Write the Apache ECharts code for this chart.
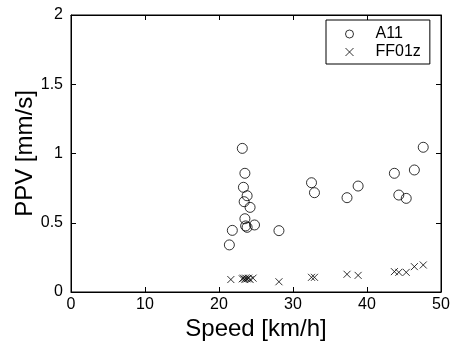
<!DOCTYPE html>
<html><head><meta charset="utf-8">
<script src="https://cdn.jsdelivr.net/npm/echarts@6/dist/echarts.min.js"></script>
<style>html,body{margin:0;padding:0;background:#fff}#c{width:455px;height:349px}</style>
</head><body><div id="c"></div>
<script>
const xTicks = [0, 10, 20, 30, 40, 50];
const yTicks = [0, 0.5, 1, 1.5, 2];
const a11Speed = [21.4, 21.8, 23.15, 23.5, 23.3, 23.8, 23.4, 24.2, 23.5, 23.8, 23.6, 24.8, 28.1, 32.5, 32.9, 37.3, 38.8, 43.7, 44.3, 45.3, 46.4, 47.6];
const a11PPV   = [0.34, 0.445, 1.037, 0.857, 0.756, 0.695, 0.652, 0.611, 0.529, 0.467, 0.477, 0.484, 0.443, 0.789, 0.717, 0.681, 0.765, 0.857, 0.700, 0.676, 0.881, 1.045];
const ffSpeed = [21.6, 23.15, 23.3, 23.5, 23.6, 23.8, 24.0, 24.2, 24.6, 28.1, 32.5, 32.9, 37.3, 38.8, 43.7, 44.3, 45.3, 46.4, 47.6];
const ffPPV   = [0.09, 0.095, 0.1, 0.09, 0.1, 0.095, 0.1, 0.09, 0.1, 0.074, 0.106, 0.106, 0.128, 0.12, 0.147, 0.142, 0.142, 0.183, 0.195];

const font = 'Liberation Sans, Arial, sans-serif';
const crossPath = 'path://M0,0L10,10M10,0L0,10';
const chart = echarts.init(document.getElementById('c'), null, {renderer: 'canvas'});
function ticks() { return {show: true, inside: true, length: 5, lineStyle: {color: '#000', width: 1}}; }
chart.setOption({
  animation: false,
  backgroundColor: '#fff',
  grid: {left: 71, right: 14, top: 15, bottom: 57, show: true, borderColor: '#000', borderWidth: 1, backgroundColor: 'transparent', outerBoundsMode: 'none', containLabel: false},
  legend: {
    orient: 'vertical', left: 326, top: 20,
    padding: [6, 9, 4, 19],
    itemWidth: 8, itemHeight: 8, itemGap: 2,
    borderColor: '#000', borderWidth: 1, backgroundColor: '#fff',
    textStyle: {fontFamily: font, fontSize: 16, lineHeight: 16, color: '#000', padding: [0, 0, 0, 17]},
    data: [
      {name: 'A11', icon: 'circle', itemStyle: {color: 'transparent', borderColor: '#000', borderWidth: 1}},
      {name: 'FF01z', icon: crossPath, itemStyle: {color: 'transparent', borderColor: '#000', borderWidth: 1}}
    ]
  },
  xAxis: [{
    type: 'value', min: xTicks[0], max: xTicks[xTicks.length - 1], interval: 10,
    name: 'Speed [km/h]', nameLocation: 'middle', nameGap: 25, nameMoveOverlap: false,
    nameTextStyle: {fontFamily: font, fontSize: 24, color: '#000'},
    axisLine: {show: true, onZero: false, lineStyle: {color: '#000'}},
    axisTick: ticks(),
    axisLabel: {fontFamily: font, fontSize: 16, color: '#000', margin: 5},
    splitLine: {show: false}
  }, {
    type: 'value', position: 'top', min: xTicks[0], max: xTicks[xTicks.length - 1], interval: 10,
    axisLine: {show: true, onZero: false, lineStyle: {color: '#000'}}, axisTick: ticks(),
    axisLabel: {show: false}, splitLine: {show: false}
  }],
  yAxis: [{
    type: 'value', min: yTicks[0], max: yTicks[yTicks.length - 1], interval: 0.5,
    name: 'PPV [mm/s]', nameLocation: 'middle', nameGap: 34, nameMoveOverlap: false,
    nameTextStyle: {fontFamily: font, fontSize: 24, color: '#000'},
    axisLine: {show: true, onZero: false, lineStyle: {color: '#000'}},
    axisTick: ticks(),
    axisLabel: {fontFamily: font, fontSize: 16, color: '#000', margin: 8},
    splitLine: {show: false}
  }, {
    type: 'value', position: 'right', min: yTicks[0], max: yTicks[yTicks.length - 1], interval: 0.5,
    axisLine: {show: true, onZero: false, lineStyle: {color: '#000'}}, axisTick: ticks(),
    axisLabel: {show: false}, splitLine: {show: false}
  }],
  series: [{
    name: 'A11', type: 'scatter', xAxisIndex: 0, yAxisIndex: 0,
    symbol: 'circle', symbolSize: 10,
    itemStyle: {color: 'transparent', borderColor: '#000', borderWidth: 1},
    data: a11Speed.map((s, i) => [s, a11PPV[i]])
  }, {
    name: 'FF01z', type: 'scatter', xAxisIndex: 0, yAxisIndex: 0,
    symbol: crossPath, symbolSize: 7,
    itemStyle: {color: 'transparent', borderColor: '#000', borderWidth: 1},
    data: ffSpeed.map((s, i) => [s, ffPPV[i]])
  }]
});
</script></body></html>
